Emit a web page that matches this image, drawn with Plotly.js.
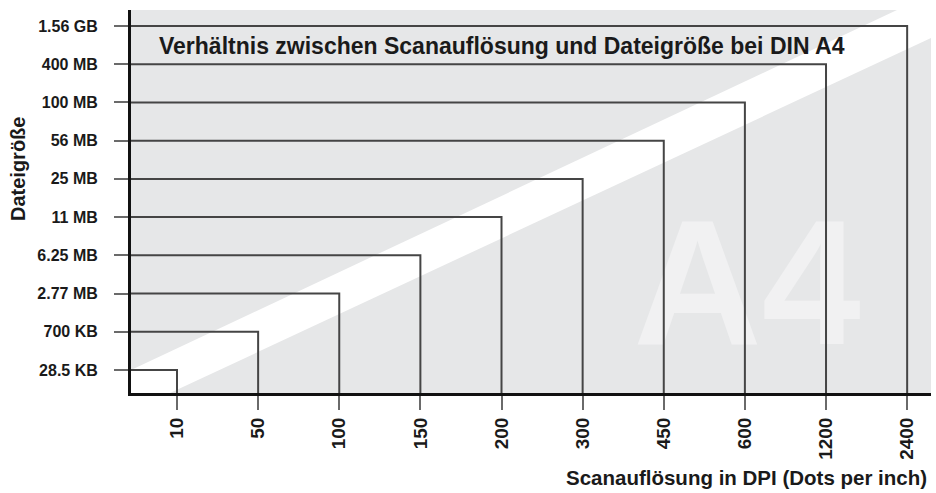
<!DOCTYPE html>
<html>
<head>
<meta charset="utf-8">
<script src="https://cdn.plot.ly/plotly-3.0.1.min.js"></script>
<style>html,body{margin:0;padding:0;background:#fff;}#chart{width:936px;height:493px;}</style>
</head>
<body>
<div id="chart"></div>
<script>
// Data
const dpiLabels = ['10', '50', '100', '150', '200', '300', '450', '600', '1200', '2400'];
const fileSizeLabels = ['28.5 KB', '700 KB', '2.77 MB', '6.25 MB', '11 MB', '25 MB', '56 MB', '100 MB', '400 MB', '1.56 GB'];
const chartTitle = 'Verhältnis zwischen Scanauflösung und Dateigröße bei DIN A4';
const xTitle = 'Scanauflösung in DPI (Dots per inch)';
const yTitle = 'Dateigröße';

const FONT = '"Liberation Sans", Arial, Helvetica, sans-serif';
const xRange = [-0.567, 9.294];
const yRange = [-0.602, 9.419];

const xIdx = dpiLabels.map((_, i) => i);
const yIdx = fileSizeLabels.map((_, i) => i);

const traces = [];
// Decorative "A4" watermark (below the lines)
traces.push({
  type: 'scatter', mode: 'text',
  x: [xRange[0] + 0.77 * (xRange[1] - xRange[0])],
  y: [yRange[0] + 0.245 * (yRange[1] - yRange[0])],
  text: ['A4'],
  textposition: 'middle center',
  textfont: {family: FONT, size: 178, color: '#f1f1f2', weight: 'bold'},
  hoverinfo: 'skip', showlegend: false, cliponaxis: false
});
// Step lines: horizontal from the y axis to the DPI value, then down to the x axis
dpiLabels.forEach((d, i) => {
  traces.push({
    type: 'scatter', mode: 'lines',
    x: [xRange[0] - 1, xIdx[i], xIdx[i]],
    y: [yIdx[i], yIdx[i], yRange[0] - 1],
    line: {color: '#454545', width: 2},
    hoverinfo: 'skip', showlegend: false, name: d + ' dpi: ' + fileSizeLabels[i]
  });
});

// Background stripe in pixel-derived paper coords
function px(x) { return (x - 131) / 800; }
function py(y) { return (393 - y) / 383; }
const stripePath = 'M ' + px(131) + ' ' + py(370) + ' L ' + px(897) + ' ' + py(10) + ' L ' + px(931) + ' ' + py(10) +
  ' L ' + px(931) + ' ' + py(38) + ' L ' + px(170) + ' ' + py(393) + ' L ' + px(131) + ' ' + py(393) + ' Z';

const layout = {
  width: 936, height: 493,
  margin: {l: 131, r: 5, t: 10, b: 100, pad: 0},
  paper_bgcolor: '#ffffff',
  plot_bgcolor: '#e6e7e8',
  showlegend: false,
  font: {family: FONT, color: '#1a1a1a'},
  xaxis: {
    range: xRange, tickmode: 'array', tickvals: xIdx, ticktext: dpiLabels,
    tickangle: -90, ticks: 'outside', ticklen: 14, tickwidth: 2, tickcolor: '#6a6a6a',
    ticklabelstandoff: 0,
    tickfont: {family: FONT, size: 19, color: '#1a1a1a', weight: 'bold'},
    showgrid: false, zeroline: false, showline: true, linecolor: '#111111', linewidth: 3,
    fixedrange: true
  },
  yaxis: {
    range: yRange, tickmode: 'array', tickvals: yIdx, ticktext: fileSizeLabels,
    ticks: 'outside', ticklen: 14, tickwidth: 2, tickcolor: '#6a6a6a',
    ticklabelstandoff: 13,
    tickfont: {family: FONT, size: 16, color: '#1a1a1a', weight: 'bold'},
    showgrid: false, zeroline: false, showline: true, linecolor: '#111111', linewidth: 3,
    fixedrange: true
  },
  shapes: [{
    type: 'path', xref: 'paper', yref: 'paper', path: stripePath,
    fillcolor: '#ffffff', line: {width: 0}, layer: 'below'
  }],
  annotations: [
    {text: chartTitle, xref: 'paper', yref: 'paper', x: px(157), y: py(46), xanchor: 'left', yanchor: 'middle',
     showarrow: false, font: {family: FONT, size: 23, color: '#1a1a1a', weight: 'bold'}},
    {text: xTitle, xref: 'paper', yref: 'paper', x: px(929), y: py(478), xanchor: 'right', yanchor: 'middle',
     showarrow: false, font: {family: FONT, size: 20.5, color: '#1a1a1a', weight: 'bold'}},
    {text: yTitle, xref: 'paper', yref: 'paper', x: px(18), y: py(169), xanchor: 'center', yanchor: 'middle',
     textangle: -90, showarrow: false, font: {family: FONT, size: 20, color: '#1a1a1a', weight: 'bold'}}
  ]
};

Plotly.newPlot('chart', traces, layout, {displayModeBar: false, staticPlot: true});
</script>
</body>
</html>
